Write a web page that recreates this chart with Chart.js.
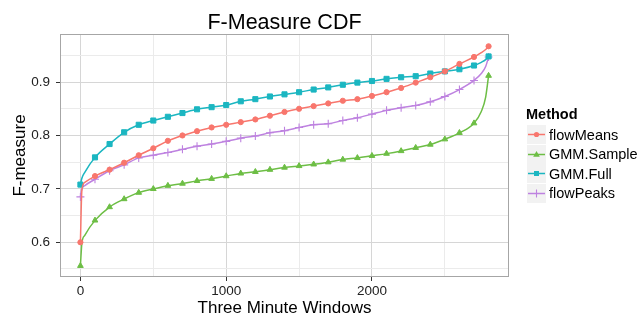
<!DOCTYPE html>
<html><head><meta charset="utf-8">
<script src="https://cdn.jsdelivr.net/npm/chart.js@4.4.0/dist/chart.umd.min.js"></script>
<style>
html,body{margin:0;padding:0;background:#fff;}
#wrap{position:relative;width:639px;height:315px;font-family:"Liberation Sans",Arial,Helvetica,sans-serif;color:#000;}
canvas{position:absolute;left:0;top:0;}
.t{position:absolute;white-space:nowrap;line-height:1;}
</style></head><body>
<div id="wrap">
<canvas id="c" width="639" height="315" style="width:639px;height:315px"></canvas>
<div class="t" style="left:284.5px;top:23px;transform:translate(-50%,-50%);font-size:21.5px;">F-Measure CDF</div>
<div id="legend"></div>
</div>
<script>
const windows   = [0,10,30,100,200,300,400,500,600,700,800,900,1000,1100,1200,1300,1400,1500,1600,1700,1800,1900,2000,2100,2200,2300,2400,2500,2600,2700,2750,2780,2800];
const flowMeans = [0.600,0.697,0.712,0.724,0.736,0.749,0.763,0.776,0.790,0.800,0.808,0.815,0.820,0.825,0.830,0.837,0.844,0.850,0.855,0.860,0.865,0.868,0.874,0.881,0.889,0.899,0.909,0.920,0.934,0.947,0.955,0.961,0.967];
const gmmSample = [0.556,0.598,0.613,0.641,0.666,0.681,0.693,0.700,0.706,0.710,0.715,0.719,0.724,0.729,0.732,0.736,0.740,0.743,0.746,0.750,0.755,0.758,0.762,0.766,0.771,0.777,0.783,0.793,0.805,0.823,0.845,0.872,0.912];
const gmmFull   = [0.708,0.720,0.731,0.759,0.784,0.806,0.820,0.828,0.835,0.842,0.849,0.853,0.857,0.864,0.868,0.873,0.877,0.881,0.886,0.890,0.895,0.899,0.902,0.906,0.909,0.911,0.916,0.920,0.924,0.931,0.937,0.942,0.948];
const flowPeaks = [0.685,0.700,0.706,0.718,0.734,0.745,0.758,0.763,0.768,0.774,0.780,0.784,0.789,0.795,0.799,0.805,0.809,0.815,0.820,0.822,0.828,0.833,0.840,0.847,0.852,0.856,0.863,0.873,0.886,0.903,0.916,0.929,0.947];
const methods   = ["flowMeans","GMM.Sample","GMM.Full","flowPeaks"];
const xTicks    = [0,500,1000,1500,2000,2500];
const xLabels   = [0,1000,2000];
const yTicks    = [0.55,0.6,0.65,0.7,0.75,0.8,0.85,0.9,0.95];
const yLabels   = [0.6,0.7,0.8,0.9];

const FONT = '"Liberation Sans", Arial, Helvetica, sans-serif';
const styles = [
  {color:'#F8766D', pointStyle:'circle',   radius:2.6, bw:1},
  {color:'#6DBE45', pointStyle:'triangle', radius:3.3, bw:1},
  {color:'#1BB6C1', pointStyle:'rect',     radius:3.6, bw:1},
  {color:'#BE82E0', pointStyle:'cross',    radius:4,   bw:1.1}
];
const series = [flowMeans, gmmSample, gmmFull, flowPeaks];
const isMarker = v => v % 100 === 0;

const datasets = series.map((vals,i)=>({
  label: methods[i],
  data: windows.map((w,j)=>({x:w,y:vals[j]})),
  borderColor: styles[i].color,
  backgroundColor: styles[i].color,
  borderWidth: 1.5,
  pointStyle: styles[i].pointStyle,
  pointRadius: windows.map(w => isMarker(w) ? styles[i].radius : 0),
  pointBorderWidth: styles[i].bw,
  pointBorderColor: styles[i].color,
  pointBackgroundColor: styles[i].color,
  cubicInterpolationMode: 'monotone',
  fill: false
}));

const nearIn = (v, arr) => arr.some(a => Math.abs(a - v) < 1e-6);

const panelBorder = {
  id:'panelBorder',
  beforeDatasetsDraw(chart){
    const {ctx, chartArea:a} = chart;
    ctx.save();
    ctx.strokeStyle = '#A6A6A6';
    ctx.lineWidth = 1;
    ctx.strokeRect(a.left+0.5, a.top+0.5, a.right-a.left-1, a.bottom-a.top-1);
    ctx.restore();
  }
};

new Chart(document.getElementById('c'), {
  type:'line',
  data:{datasets},
  plugins:[panelBorder],
  options:{
    responsive:false,
    devicePixelRatio:1,
    animation:false,
    layout:{padding:{top:34,right:130,left:0,bottom:0}},
    plugins:{legend:{display:false}, title:{display:false}, tooltip:{enabled:false}},
    scales:{
      x:{
        type:'linear', min:-140, max:2940,
        afterBuildTicks: s => { s.ticks = xTicks.map(v=>({value:v})); },
        afterFit: s => { s.height = 38; },
        ticks:{
          autoSkip:false, maxRotation:0, padding:2,
          color:'#222', font:{family:FONT, size:13.5},
          callback: v => nearIn(v, xLabels) ? String(v) : ''
        },
        grid:{
          color: c => (c.tick && nearIn(c.tick.value, xLabels)) ? '#D6D6D6' : '#EBEBEB',
          lineWidth: 1,
          tickColor: c => (c.tick && nearIn(c.tick.value, xLabels)) ? '#333' : 'rgba(0,0,0,0)',
          tickLength: 4, tickWidth: 1
        },
        border:{display:false},
        title:{display:true, text:'Three Minute Windows', color:'#000',
               font:{family:FONT, size:17, lineHeight:1}, padding:{top:0,bottom:-1.5}}
      },
      y:{
        type:'linear', min:0.535, max:0.99,
        afterBuildTicks: s => { s.ticks = yTicks.map(v=>({value:v})); },
        afterFit: s => { s.width = 60; },
        ticks:{
          autoSkip:false, padding:6,
          color:'#222', font:{family:FONT, size:13.5},
          callback: v => nearIn(v, yLabels) ? v.toFixed(1) : ''
        },
        grid:{
          color: c => (c.tick && nearIn(c.tick.value, yLabels)) ? '#D6D6D6' : '#EBEBEB',
          lineWidth: 1,
          tickColor: c => (c.tick && nearIn(c.tick.value, yLabels)) ? '#333' : 'rgba(0,0,0,0)',
          tickLength: 4, tickWidth: 1
        },
        border:{display:false},
        title:{display:true, text:'F-measure', color:'#000',
               font:{family:FONT, size:17, lineHeight:1}, padding:{top:11.5,bottom:0}}
      }
    }
  }
});

// HTML legend
(function(){
  const lg = document.getElementById('legend');
  let html = '<div class="t" style="left:526px;top:114px;transform:translateY(-50%);font-size:14.5px;font-weight:bold;">Method</div>';
  methods.forEach((m,i)=>{
    const cy = 134.5 + i*19.6;
    const st = styles[i], c = st.color;
    let mk = '';
    if (st.pointStyle==='circle') mk = `<circle cx="9.5" cy="9.5" r="2.6" fill="${c}"/>`;
    else if (st.pointStyle==='triangle') mk = `<polygon points="9.5,6 12.8,11.7 6.2,11.7" fill="${c}"/>`;
    else if (st.pointStyle==='rect') mk = `<rect x="7" y="7" width="5" height="5" fill="${c}"/>`;
    else mk = `<line x1="9.5" y1="5.5" x2="9.5" y2="13.5" stroke="${c}" stroke-width="1.1"/>`;
    html += `<svg style="position:absolute;left:527px;top:${cy-9.5}px" width="19" height="19">
      <rect x="0" y="0" width="19" height="19" fill="#F2F2F2"/>
      <line x1="1" y1="9.5" x2="18" y2="9.5" stroke="${c}" stroke-width="1.5"/>${mk}</svg>`;
    html += `<div class="t" style="left:549px;top:${cy}px;transform:translateY(-50%);font-size:14.5px;">${m}</div>`;
  });
  lg.innerHTML = html;
})();
</script>
</body></html>
